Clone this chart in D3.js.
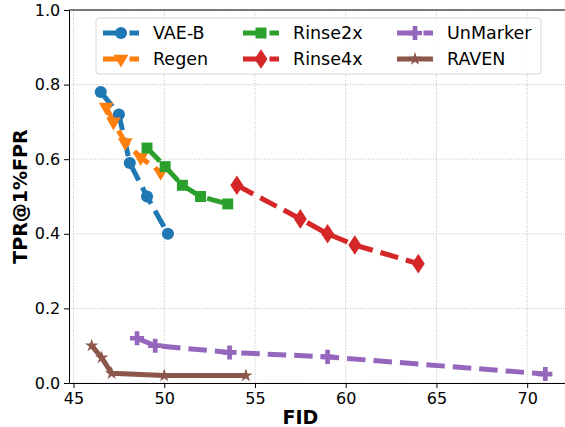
<!DOCTYPE html>
<html>
<head>
<meta charset="utf-8">
<script src="https://cdn.jsdelivr.net/npm/d3@7"></script>
<style>
  body { margin: 0; background: #fff; }
  text { font-family: "DejaVu Sans", sans-serif; }
</style>
</head>
<body>
<div id="chart"></div>
<script>
const width = 565;
const height = 427;

// datos
const series = ["VAE-B", "Regen", "Rinse2x", "Rinse4x", "UnMarker", "RAVEN"];
const vaeB = [[46.5, 0.78], [47.5, 0.72], [48.1, 0.59], [49.05, 0.50], [50.2, 0.40]];
const regen = [[46.8, 0.74], [47.2, 0.70], [47.85, 0.645], [48.7, 0.605], [49.8, 0.565]];
const rinse2x = [[49.05, 0.63], [50.05, 0.58], [51.0, 0.53], [52.0, 0.50], [53.5, 0.48]];
const rinse4x = [[54.0, 0.53], [57.5, 0.44], [59.0, 0.40], [60.5, 0.37], [64.0, 0.32]];
const unmarker = [[48.5, 0.12], [49.5, 0.10], [53.6, 0.082], [59.0, 0.07], [71.0, 0.024]];
const raven = [[46.0, 0.10], [46.55, 0.068], [47.1, 0.026], [50.0, 0.02], [54.5, 0.02]];
const xTicks = [45, 50, 55, 60, 65, 70];
const yTicks = [0.0, 0.2, 0.4, 0.6, 0.8, 1.0];

const colores = ["#1f77b4", "#ff7f0e", "#2ca02c", "#d62728", "#9467bd", "#8c564b"];
const simbolos = ["circle", "triangle", "square", "diamond", "plus", "star"];
const datos = [vaeB, regen, rinse2x, rinse4x, unmarker, raven];
const discontinua = [true, true, true, true, true, false];

const margin = {top: 10, right: -3, bottom: 44, left: 69};
const w = width - margin.left - margin.right;
const h = height - margin.top - margin.bottom;

const svg = d3.select("#chart").append("svg")
  .attr("width", width)
  .attr("height", height);

const x = d3.scaleLinear().domain([44.75, 72.25]).range([0, w]);
const y = d3.scaleLinear().domain([0, 1]).range([h, 0]);

const g = svg.append("g").attr("transform", `translate(${margin.left},${margin.top})`);

// rejilla punteada
g.append("g").selectAll("line").data(xTicks).join("line")
  .attr("x1", d => x(d)).attr("x2", d => x(d))
  .attr("y1", 0).attr("y2", h)
  .attr("stroke", "#b0b0b0").attr("stroke-width", 0.8).attr("stroke-dasharray", "1,1.6");
g.append("g").selectAll("line").data(yTicks).join("line")
  .attr("x1", 0).attr("x2", w)
  .attr("y1", d => y(d)).attr("y2", d => y(d))
  .attr("stroke", "#b0b0b0").attr("stroke-width", 0.8).attr("stroke-dasharray", "1,1.6");

// ejes
const ejeX = g.append("g").attr("transform", `translate(0,${h})`)
  .call(d3.axisBottom(x).tickValues(xTicks).tickFormat(d3.format("d")).tickSize(5).tickSizeOuter(0));
const ejeY = g.append("g")
  .call(d3.axisLeft(y).tickValues(yTicks).tickFormat(d3.format(".1f")).tickSize(5).tickSizeOuter(0));
[ejeX, ejeY].forEach(e => {
  e.selectAll("text").style("font-size", "16px").attr("fill", "#000");
  e.selectAll("line").attr("stroke", "#000").attr("stroke-width", 1);
  e.select(".domain").attr("stroke", "#000").attr("stroke-width", 1);
});
ejeX.selectAll("text").attr("dy", "0.8em");
ejeY.selectAll("text").attr("dx", "-0.05em");

// borde superior
g.append("line").attr("x1", 0).attr("x2", w).attr("y1", 0).attr("y2", 0)
  .attr("stroke", "#000").attr("stroke-width", 1);

// titulos de ejes
svg.append("text")
  .attr("x", margin.left + x(57.5)).attr("y", 424)
  .attr("text-anchor", "middle")
  .style("font-size", "19px").style("font-weight", "bold")
  .text("FID");
svg.append("text")
  .attr("transform", `translate(27,${margin.top + y(0.5)}) rotate(-90)`)
  .attr("text-anchor", "middle")
  .style("font-size", "19px").style("font-weight", "bold")
  .text("TPR@1%FPR");

function marcador(sel, tipo, color) {
  const formas = {
    circle: d3.symbol(d3.symbolCircle, 115),
    triangle: d3.symbol(d3.symbolTriangle, 95),
    square: d3.symbol(d3.symbolSquare, 120),
    diamond: d3.symbol(d3.symbolDiamond, 110),
    plus: d3.symbol(d3.symbolCross, 110),
    star: d3.symbol(d3.symbolStar, 55)
  };
  sel.attr("d", formas[tipo]).attr("fill", color);
  if (tipo === "triangle") sel.attr("transform", function() { return d3.select(this).attr("transform") + " rotate(180)"; });
  if (tipo === "diamond") sel.attr("transform", function() { return d3.select(this).attr("transform") + " scale(1.15,1)"; });
}

const linea = d3.line().x(d => x(d[0])).y(d => y(d[1]));

datos.forEach((serie, i) => {
  const sg = g.append("g");
  sg.append("path")
    .datum(serie)
    .attr("d", linea)
    .attr("fill", "none")
    .attr("stroke", colores[i])
    .attr("stroke-width", 5)
    .attr("stroke-dasharray", discontinua[i] ? "18.5,8" : null);
  sg.selectAll("path.m").data(serie).join("path")
    .attr("class", "m")
    .attr("transform", d => `translate(${x(d[0])},${y(d[1])})`)
    .call(marcador, simbolos[i], colores[i]);
});

// leyenda
const leyenda = svg.append("g");
leyenda.append("rect")
  .attr("x", 96).attr("y", 18).attr("width", 445).attr("height", 56)
  .attr("rx", 3)
  .attr("fill", "#fff").attr("fill-opacity", 0.8)
  .attr("stroke", "#d6d6d6").attr("stroke-width", 1);

const colX = [103, 243, 397];
const rowY = [33, 59];
series.forEach((nombre, i) => {
  const cx = colX[Math.floor(i / 2)];
  const cy = rowY[i % 2];
  const item = leyenda.append("g").attr("transform", `translate(${cx},${cy})`);
  item.append("line")
    .attr("x1", 0).attr("x2", 36)
    .attr("stroke", colores[i]).attr("stroke-width", 5)
    .attr("stroke-dasharray", discontinua[i] ? "18.5,8" : null);
  item.append("path")
    .attr("transform", "translate(18,0)")
    .call(marcador, simbolos[i], colores[i]);
  item.append("text")
    .attr("x", 50).attr("y", 0).attr("dy", "0.35em")
    .style("font-size", "17.5px")
    .text(nombre);
});
</script>
</body>
</html>
